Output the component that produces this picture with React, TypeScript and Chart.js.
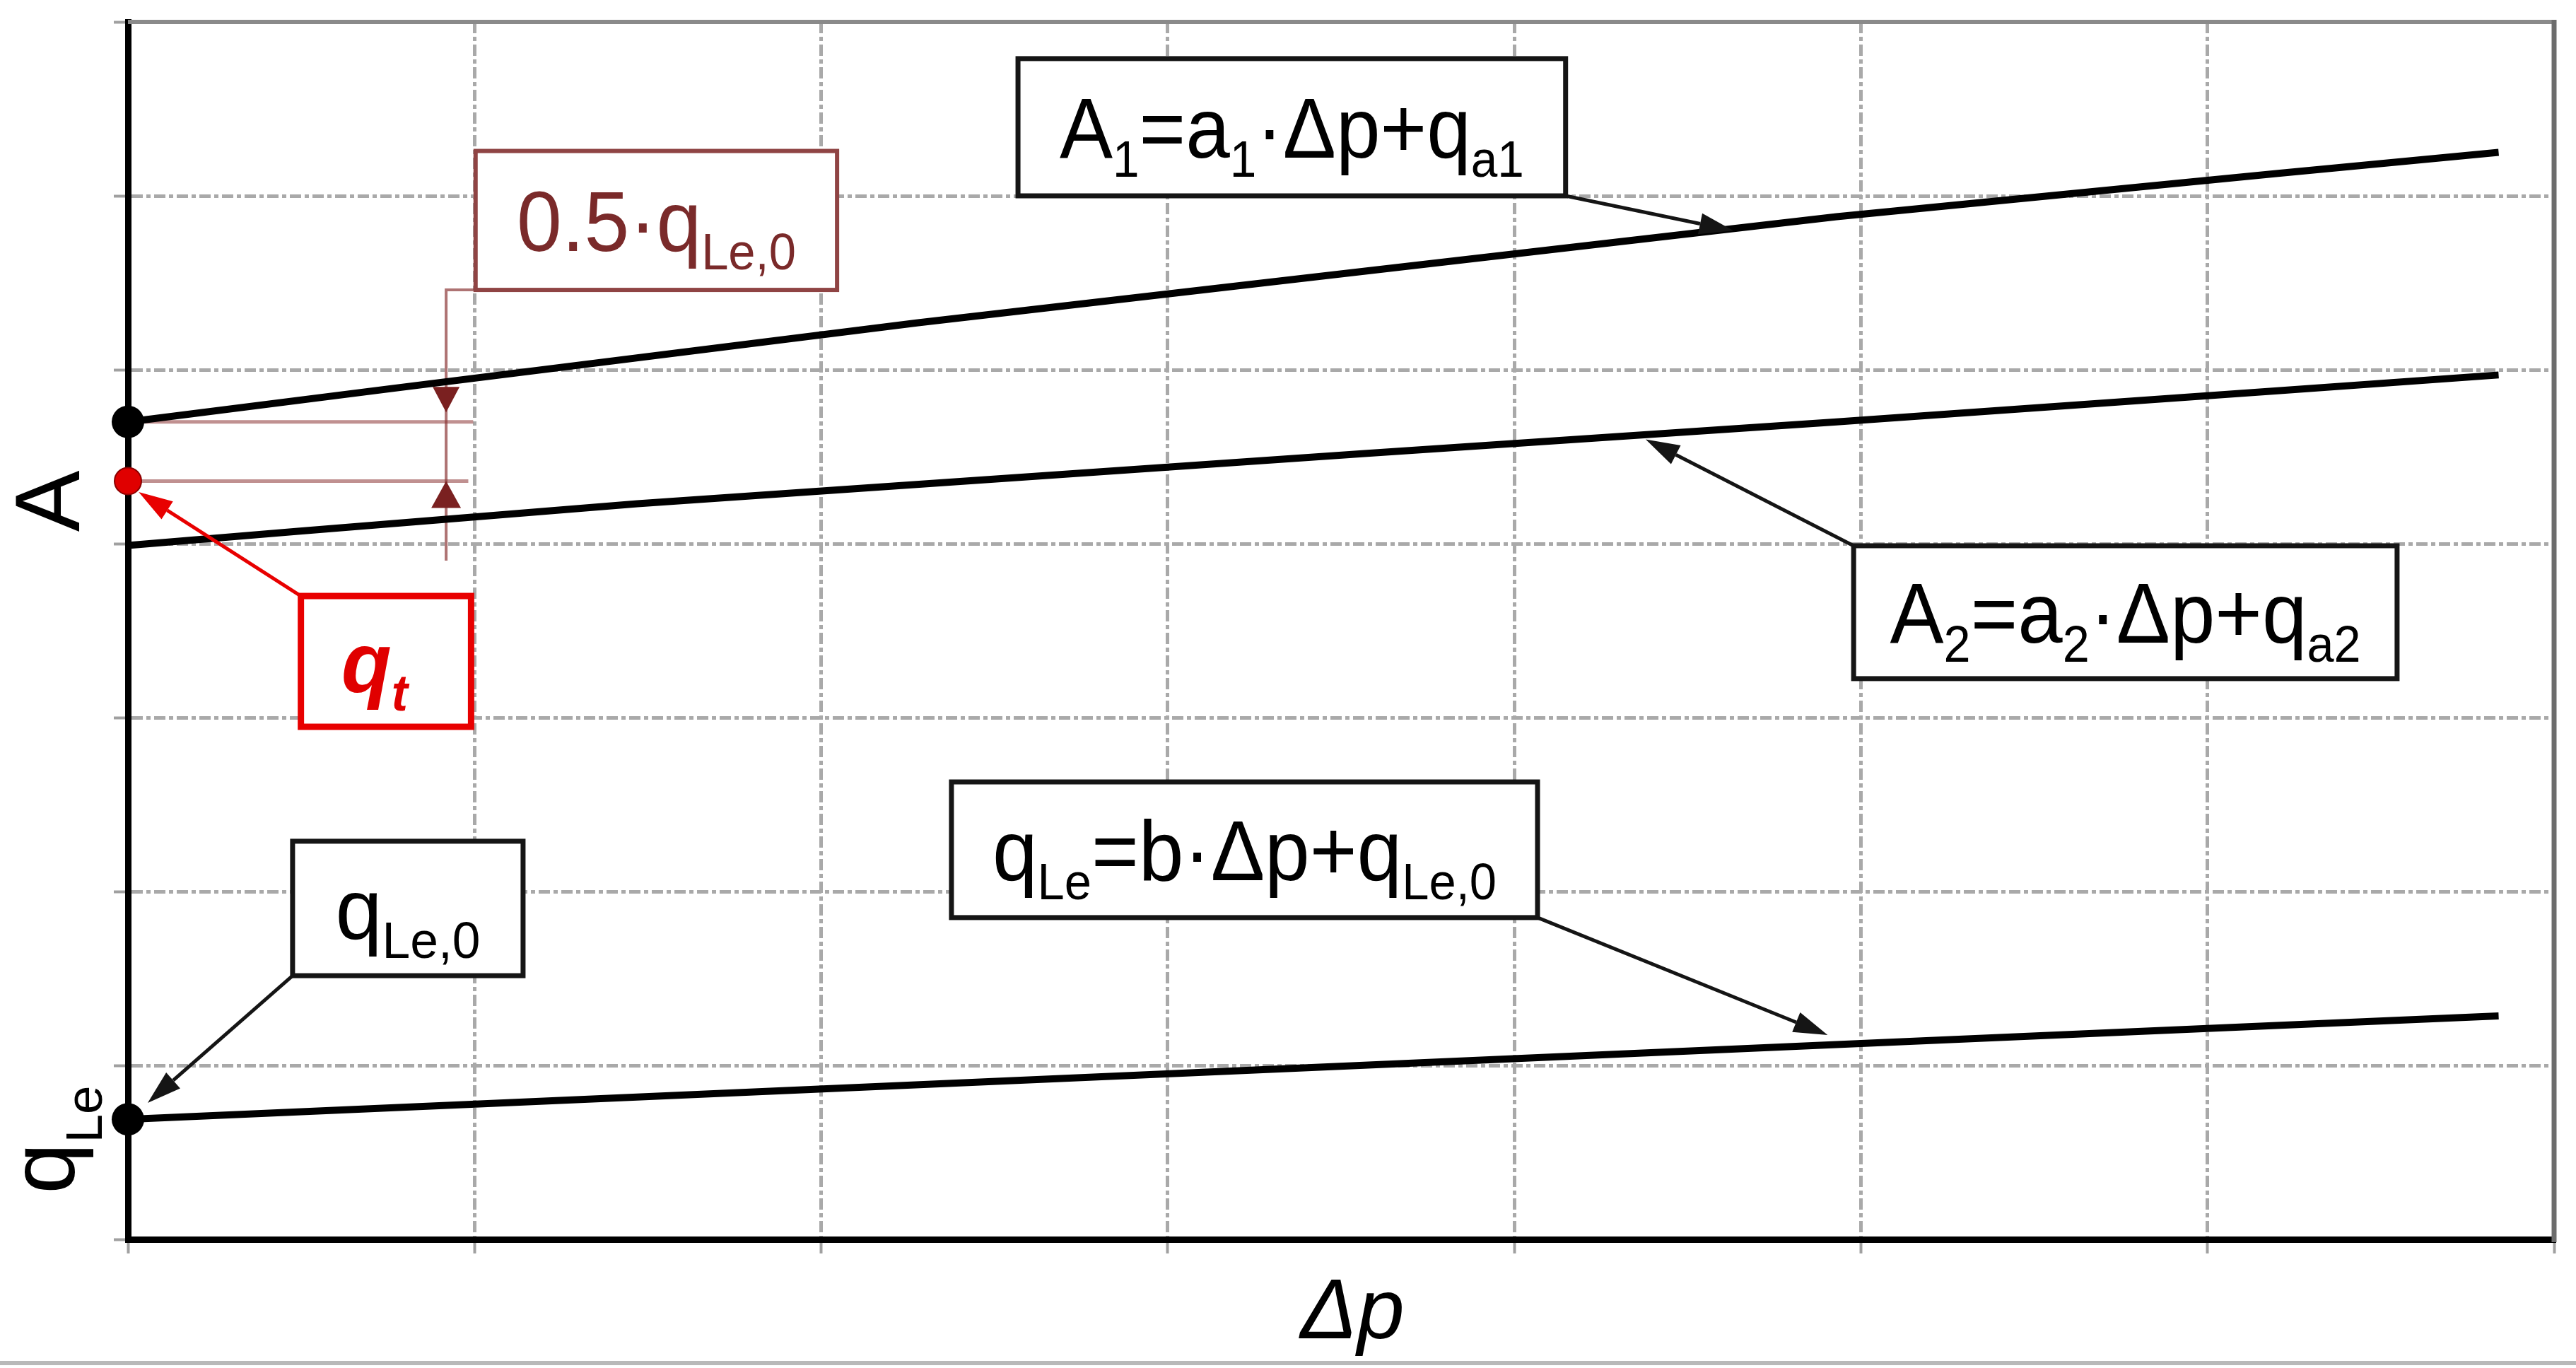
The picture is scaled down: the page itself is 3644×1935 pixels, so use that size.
import React, { useEffect, useRef } from 'react';
import { Chart, registerables } from 'chart.js';

Chart.register(...registerables);

const W = 3644;
const H = 1935;

// ---------------- data (grid units) ----------------
const xTickValues = [0, 1, 2, 3, 4, 5, 6, 7];
const yTickValues = [0, 1, 2, 3, 4, 5, 6, 7];

const dpA1 = [0, 2.28, 4.93, 6.84];
const a1Values = [4.7, 5.27, 5.88, 6.25];

const dpA2 = [0, 1.47, 4.93, 6.84];
const a2Values = [3.99, 4.23, 4.7, 4.97];

const dpQLe = [0, 4.93, 6.84];
const qLeValues = [0.69, 1.12, 1.285];

const startDotDp = [0, 0];
const startDotValues = [4.7, 0.69];

const qtDp = [0];
const qtValues = [4.36];

// ---------------- text ----------------
type Seg = [string, boolean]; // [text, isSubscript]
const labelA1: Seg[] = [['A', false], ['1', true], ['=a', false], ['1', true], ['·Δp+q', false], ['a1', true]];
const labelA2: Seg[] = [['A', false], ['2', true], ['=a', false], ['2', true], ['·Δp+q', false], ['a2', true]];
const labelQLeEq: Seg[] = [['q', false], ['Le', true], ['=b·Δp+q', false], ['Le,0', true]];
const labelQLe0: Seg[] = [['q', false], ['Le,0', true]];
const labelHalf: Seg[] = [['0.5·q', false], ['Le,0', true]];
const labelQt: Seg[] = [['q', false], ['t', true]];
const yLabelA: Seg[] = [['A', false]];
const yLabelQLe: Seg[] = [['q', false], ['Le', true]];
const xLabel: Seg[] = [['Δp', false]];

const FAMILY = "'Liberation Sans', Arial, Helvetica, sans-serif";

// ---------------- annotation layout (in axis units) ----------------
const boxes = [
  { x0: 2.568, x1: 4.148, y0: 6.0, y1: 6.789, segs: labelA1, text: '#000', border: '#151515', bw: 7, style: '', tw: 657, dx: 0 },
  { x0: 4.979, x1: 6.547, y0: 3.224, y1: 3.988, segs: labelA2, text: '#000', border: '#151515', bw: 7, style: '', tw: 666, dx: 0 },
  { x0: 2.376, x1: 4.067, y0: 1.85, y1: 2.63, segs: labelQLeEq, text: '#000', border: '#151515', bw: 7, style: '', tw: 713, dx: 0 },
  { x0: 0.475, x1: 1.14, y0: 1.516, y1: 2.289, segs: labelQLe0, text: '#000', border: '#151515', bw: 7, style: '', tw: 205, dx: 0 },
  { x0: 1.003, x1: 2.046, y0: 5.459, y1: 6.258, segs: labelHalf, text: '#7a2a2a', border: '#8f4444', bw: 6, style: '', tw: 395, dx: 0 },
  { x0: 0.499, x1: 0.99, y0: 2.947, y1: 3.699, segs: labelQt, text: '#e00000', border: '#e80000', bw: 9, style: 'italic bold', tw: 94, dx: -16 },
];

const arrows = [
  { from: [4.148, 6.0], to: [4.632, 5.8], color: '#151515' },
  { from: [4.979, 3.988], to: [4.379, 4.6], color: '#151515' },
  { from: [4.067, 1.85], to: [4.904, 1.175], color: '#151515' },
  { from: [0.475, 1.516], to: [0.057, 0.785], color: '#151515' },
  { from: [0.499, 3.699], to: [0.031, 4.297], color: '#e80000' },
];

const dim = {
  x: 0.918,
  leaderFrom: [1.003, 5.459],
  bottom: 3.902,
  downTip: 4.755,
  upTip: 4.36,
  refA: { y: 4.7, x1: 0.996 },
  refQt: { y: 4.36, x1: 0.982 },
};

// ---------------- drawing helpers ----------------
function drawRich(
  ctx: CanvasRenderingContext2D,
  segs: Seg[],
  cx: number,
  baseline: number,
  size: number,
  style: string,
  color: string,
  targetWidth?: number,
  subRatio = 0.6,
  subShift = 0.22,
) {
  const mainFont = `${style} ${size}px ${FAMILY}`.trim();
  const subFont = `${style} ${Math.round(size * subRatio)}px ${FAMILY}`.trim();
  let total = 0;
  const widths = segs.map(([t, sub]) => {
    ctx.font = sub ? subFont : mainFont;
    const w = ctx.measureText(t).width;
    total += w;
    return w;
  });
  const sx = targetWidth ? targetWidth / total : 1;
  ctx.save();
  ctx.translate(cx - (total * sx) / 2, baseline);
  ctx.scale(sx, 1);
  ctx.fillStyle = color;
  ctx.textAlign = 'left';
  ctx.textBaseline = 'alphabetic';
  let x = 0;
  segs.forEach(([t, sub], i) => {
    ctx.font = sub ? subFont : mainFont;
    ctx.fillText(t, x, sub ? size * subShift : 0);
    x += widths[i];
  });
  ctx.restore();
}

function drawArrow(
  ctx: CanvasRenderingContext2D,
  x1: number, y1: number, x2: number, y2: number,
  color: string, lw: number, len: number, half: number,
) {
  const ang = Math.atan2(y2 - y1, x2 - x1);
  const bx = x2 - len * Math.cos(ang);
  const by = y2 - len * Math.sin(ang);
  ctx.save();
  ctx.strokeStyle = color;
  ctx.lineWidth = lw;
  ctx.beginPath();
  ctx.moveTo(x1, y1);
  ctx.lineTo(bx, by);
  ctx.stroke();
  ctx.fillStyle = color;
  ctx.beginPath();
  ctx.moveTo(x2, y2);
  ctx.lineTo(bx + half * Math.sin(ang), by - half * Math.cos(ang));
  ctx.lineTo(bx - half * Math.sin(ang), by + half * Math.cos(ang));
  ctx.closePath();
  ctx.fill();
  ctx.restore();
}

const annotationPlugin = {
  id: 'diagramAnnotations',
  beforeDatasetsDraw(chart: any) {
    const ctx: CanvasRenderingContext2D = chart.ctx;
    const xs = chart.scales.x;
    const ys = chart.scales.y;
    const px = (v: number) => xs.getPixelForValue(v);
    const py = (v: number) => ys.getPixelForValue(v);
    const ca = chart.chartArea;

    // top & right frame
    ctx.save();
    ctx.strokeStyle = '#8a8a8a';
    ctx.lineWidth = 6;
    ctx.beginPath();
    ctx.moveTo(ca.left, ca.top);
    ctx.lineTo(ca.right, ca.top);
    ctx.stroke();
    ctx.strokeStyle = '#6c6c6c';
    ctx.lineWidth = 7;
    ctx.beginPath();
    ctx.moveTo(ca.right, ca.top - 3);
    ctx.lineTo(ca.right, ca.bottom + 4);
    ctx.stroke();
    ctx.restore();

    // reference lines and dimension line
    const brownLight = 'rgba(150, 70, 70, 0.6)';
    const brownDark = '#7a2020';
    ctx.save();
    ctx.strokeStyle = brownLight;
    ctx.lineWidth = 5;
    ctx.beginPath();
    ctx.moveTo(px(0), py(dim.refA.y));
    ctx.lineTo(px(dim.refA.x1), py(dim.refA.y));
    ctx.moveTo(px(0), py(dim.refQt.y));
    ctx.lineTo(px(dim.refQt.x1), py(dim.refQt.y));
    ctx.stroke();
    ctx.lineWidth = 4;
    ctx.strokeStyle = 'rgba(140, 55, 55, 0.7)';
    ctx.beginPath();
    ctx.moveTo(px(dim.leaderFrom[0]), py(dim.leaderFrom[1]));
    ctx.lineTo(px(dim.x), py(dim.leaderFrom[1]));
    ctx.lineTo(px(dim.x), py(dim.bottom));
    ctx.stroke();
    // arrowheads
    ctx.fillStyle = brownDark;
    const dX = px(dim.x);
    const dT = py(dim.downTip);
    ctx.beginPath();
    ctx.moveTo(dX, dT);
    ctx.lineTo(dX - 19, dT - 36);
    ctx.lineTo(dX + 19, dT - 36);
    ctx.closePath();
    ctx.fill();
    const uT = py(dim.upTip);
    ctx.beginPath();
    ctx.moveTo(dX, uT);
    ctx.lineTo(dX - 21, uT + 38);
    ctx.lineTo(dX + 21, uT + 38);
    ctx.closePath();
    ctx.fill();
    ctx.restore();
  },
  afterDatasetsDraw(chart: any) {
    const ctx: CanvasRenderingContext2D = chart.ctx;
    const xs = chart.scales.x;
    const ys = chart.scales.y;
    const px = (v: number) => xs.getPixelForValue(v);
    const py = (v: number) => ys.getPixelForValue(v);
    const ca = chart.chartArea;

    // arrows
    arrows.forEach((a) => {
      drawArrow(ctx, px(a.from[0]), py(a.from[1]), px(a.to[0]), py(a.to[1]), a.color, 5, 48, 15);
    });

    // boxes
    boxes.forEach((b) => {
      const l = px(b.x0);
      const r = px(b.x1);
      const t = py(b.y1);
      const bt = py(b.y0);
      ctx.save();
      ctx.fillStyle = '#ffffff';
      ctx.fillRect(l, t, r - l, bt - t);
      ctx.strokeStyle = b.border;
      ctx.lineWidth = b.bw;
      ctx.strokeRect(l, t, r - l, bt - t);
      ctx.restore();
      const size = 120;
      drawRich(ctx, b.segs, (l + r) / 2 + b.dx, (t + bt) / 2 + size * 0.36, size, b.style, b.text, b.tw);
    });

    // axis labels (rotated on the left)
    const drawRot = (segs: Seg[], bx: number, cy: number, size: number, shift: number) => {
      ctx.save();
      ctx.translate(bx, cy);
      ctx.rotate(-Math.PI / 2);
      drawRich(ctx, segs, 0, 0, size, '', '#000', undefined, 0.56, shift);
      ctx.restore();
    };
    drawRot(yLabelA, ca.left - 69, py(4.244), 130, 0.3);
    drawRot(yLabelQLe, ca.left - 76, py(0.573), 130, 0.3);

    // x axis title
    drawRich(ctx, xLabel, (ca.left + ca.right) / 2 + 16, ca.bottom + 140, 120, 'italic', '#000');

    // thin page line at the bottom
    ctx.save();
    ctx.fillStyle = '#b9b9b9';
    ctx.fillRect(0, H - 10, W, 6);
    ctx.restore();
  },
};

const toPoints = (xs: number[], ys: number[]) => xs.map((x, i) => ({ x, y: ys[i] }));

export default function App() {
  const ref = useRef<HTMLCanvasElement>(null);

  useEffect(() => {
    const canvas = ref.current;
    if (!canvas) return;
    const lineStyle = {
      showLine: true,
      borderColor: '#000',
      borderWidth: 10,
      pointRadius: 0,
      cubicInterpolationMode: 'monotone' as const,
      borderCapStyle: 'butt' as const,
      clip: false as const,
    };
    const gridCommon = {
      color: '#a9a9a9',
      lineWidth: 5,
      drawTicks: true,
      tickLength: 20,
      tickColor: '#a0a0a0',
      tickWidth: 4,
    };
    const chart = new Chart(canvas, {
      type: 'scatter',
      data: {
        datasets: [
          { label: 'A1', data: toPoints(dpA1, a1Values), ...lineStyle },
          { label: 'A2', data: toPoints(dpA2, a2Values), ...lineStyle },
          { label: 'qLe', data: toPoints(dpQLe, qLeValues), ...lineStyle },
          {
            label: 'start points',
            data: toPoints(startDotDp, startDotValues),
            showLine: false,
            pointRadius: 23,
            pointBackgroundColor: '#000',
            pointBorderWidth: 0,
            clip: false as const,
          },
          {
            label: 'qt',
            data: toPoints(qtDp, qtValues),
            showLine: false,
            pointRadius: 19,
            pointBackgroundColor: '#e00000',
            pointBorderColor: '#8a0000',
            pointBorderWidth: 2,
            clip: false as const,
          },
        ],
      },
      options: {
        responsive: false,
        animation: false,
        devicePixelRatio: 1,
        events: [],
        layout: { padding: { left: 161, right: 31, top: 31, bottom: 162 } },
        plugins: { legend: { display: false }, tooltip: { enabled: false } },
        scales: {
          x: {
            type: 'linear',
            min: xTickValues[0],
            max: xTickValues[xTickValues.length - 1],
            afterBuildTicks: (s: any) => {
              s.ticks = xTickValues.map((v) => ({ value: v }));
            },
            ticks: { display: false },
            grid: gridCommon,
            border: { display: true, color: '#000', width: 9, dash: [16, 5, 6, 5] },
          },
          y: {
            type: 'linear',
            min: yTickValues[0],
            max: yTickValues[yTickValues.length - 1],
            afterBuildTicks: (s: any) => {
              s.ticks = yTickValues.map((v) => ({ value: v }));
            },
            ticks: { display: false },
            grid: gridCommon,
            border: { display: true, color: '#000', width: 9, dash: [16, 5, 6, 5] },
          },
        },
      },
      plugins: [annotationPlugin],
    });
    return () => chart.destroy();
  }, []);

  return (
    <div style={{ position: 'absolute', left: 0, top: 0, width: W, height: H, background: '#fff' }}>
      <canvas ref={ref} width={W} height={H} style={{ display: 'block', width: W, height: H }} />
    </div>
  );
}
